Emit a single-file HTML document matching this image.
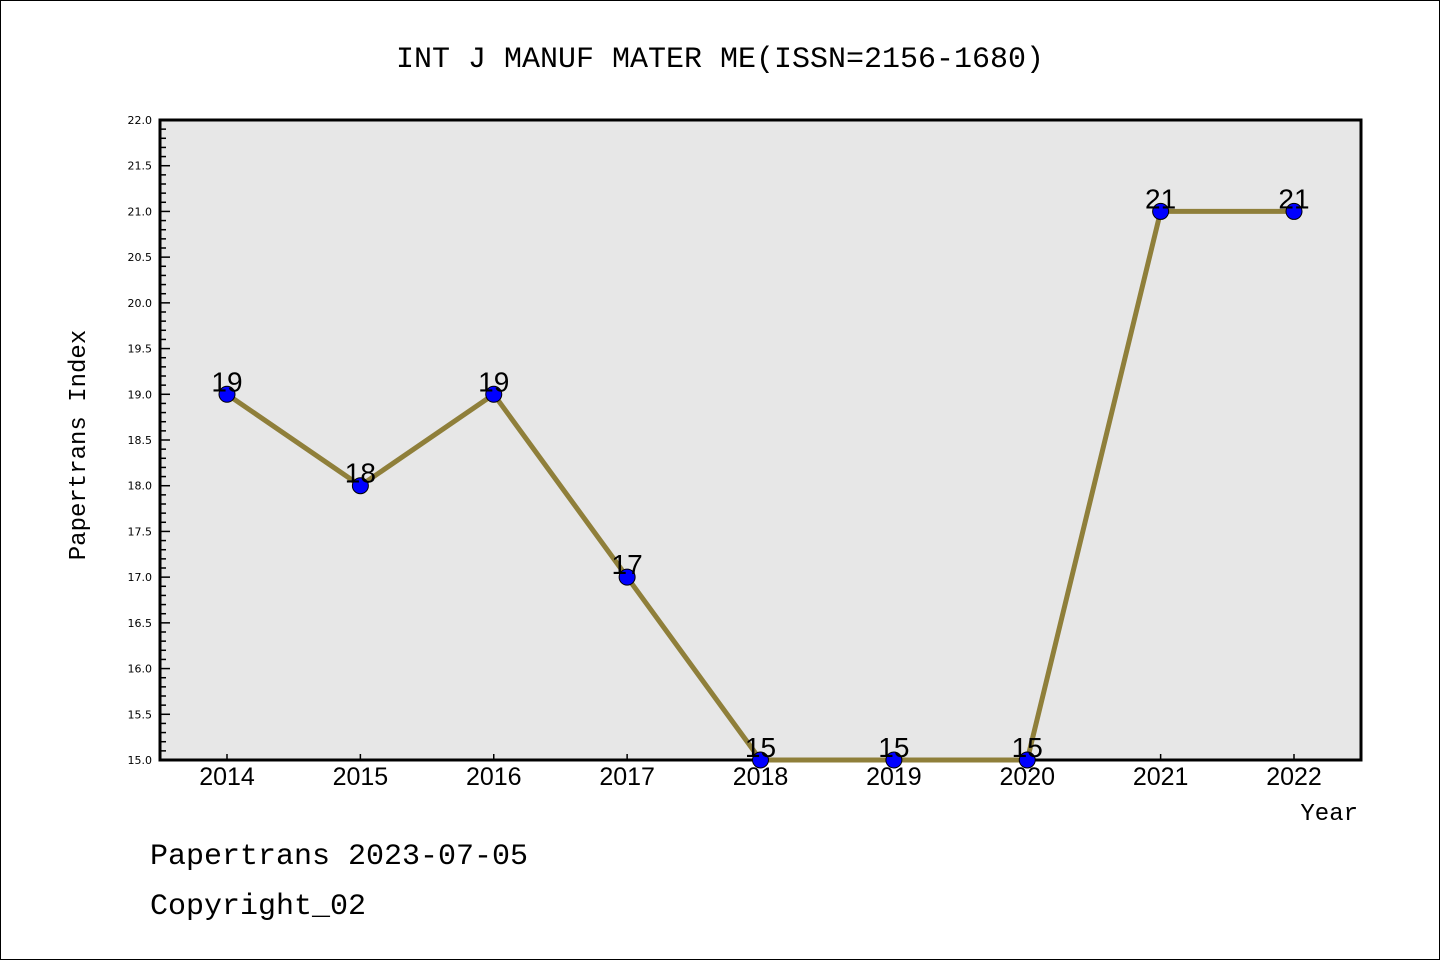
<!DOCTYPE html>
<html><head><meta charset="utf-8"><style>
body{margin:0;background:#fff}
svg{display:block}
text{font-family:"Liberation Mono","DejaVu Sans Mono",monospace}
</style></head><body>
<svg id="chart" width="1440" height="960">
<rect x="0.5" y="0.5" width="1439" height="959" fill="#fff" stroke="#000"/>
<text x="720" y="67" text-anchor="middle" font-size="30">INT J MANUF MATER ME(ISSN=2156-1680)</text>
<rect x="160" y="120" width="1201" height="640" fill="#e7e7e7" stroke="#000" stroke-width="3"/>
<g id="yticks"></g><g id="xticks"></g>
<g id="series"></g>
<text x="85" y="445" transform="rotate(-90 85 445)" text-anchor="middle" font-size="24">Papertrans Index</text>
<text x="1358" y="820" text-anchor="end" font-size="24">Year</text>
<text x="150" y="864" font-size="30">Papertrans 2023-07-05</text>
<text x="150" y="914" font-size="30">Copyright_02</text>
</svg>
<script>
const years=["2014","2015","2016","2017","2018","2019","2020","2021","2022"];
const values=[19,18,19,17,15,15,15,21,21];
const yTickLabels=["15.0","15.5","16.0","16.5","17.0","17.5","18.0","18.5","19.0","19.5","20.0","20.5","21.0","21.5","22.0"];
const NS="http://www.w3.org/2000/svg";
const L=160,R=1361,T=120,B=760,yMin=15,yMax=22;
const x=i=>227+i*(1294-227)/(years.length-1);
const y=v=>B-(v-yMin)/(yMax-yMin)*(B-T);
function mk(tag,attrs,parent){const e=document.createElementNS(NS,tag);for(const k in attrs)e.setAttribute(k,attrs[k]);parent.appendChild(e);return e;}
const yt=document.getElementById('yticks');
for(let k=0;k<=70;k++){const v=yMin+k*0.1;const major=k%5===0;
 const ln=mk('line',{x1:L,x2:L+(major?10:6),y1:y(v),y2:y(v),stroke:'#000','stroke-width':1.5},yt);
 
 }
yTickLabels.forEach(s=>{const t=mk('text',{x:152,y:y(parseFloat(s))+4,'text-anchor':'end',style:'font-size:11px;font-family:"DejaVu Sans",sans-serif'},yt);t.textContent=s;
 
 });
const xt=document.getElementById('xticks');
years.forEach((yr,i)=>{const ln=mk('line',{x1:x(i),x2:x(i),y1:B,y2:B-6,stroke:'#000','stroke-width':1.5},xt);
 
 
 const t=mk('text',{x:x(i),y:785,'text-anchor':'middle',style:'font-size:25px;font-family:"Liberation Sans",sans-serif'},xt);t.textContent=yr;
 
 });
const sg=document.getElementById('series');
const pl=mk('polyline',{points:values.map((v,i)=>x(i)+','+y(v)).join(' '),fill:'none',stroke:'#8f7f3a','stroke-width':5},sg);


values.forEach((v,i)=>{const c=mk('circle',{cx:x(i),cy:y(v),r:8,fill:'#0000ff',stroke:'#000','stroke-width':1},sg);
 
 
 const t=mk('text',{x:x(i),y:y(v)-3,'text-anchor':'middle',style:'font-size:28px;font-family:"Liberation Sans",sans-serif'},sg);t.textContent=v;
 
 });
</script>
</body></html>
